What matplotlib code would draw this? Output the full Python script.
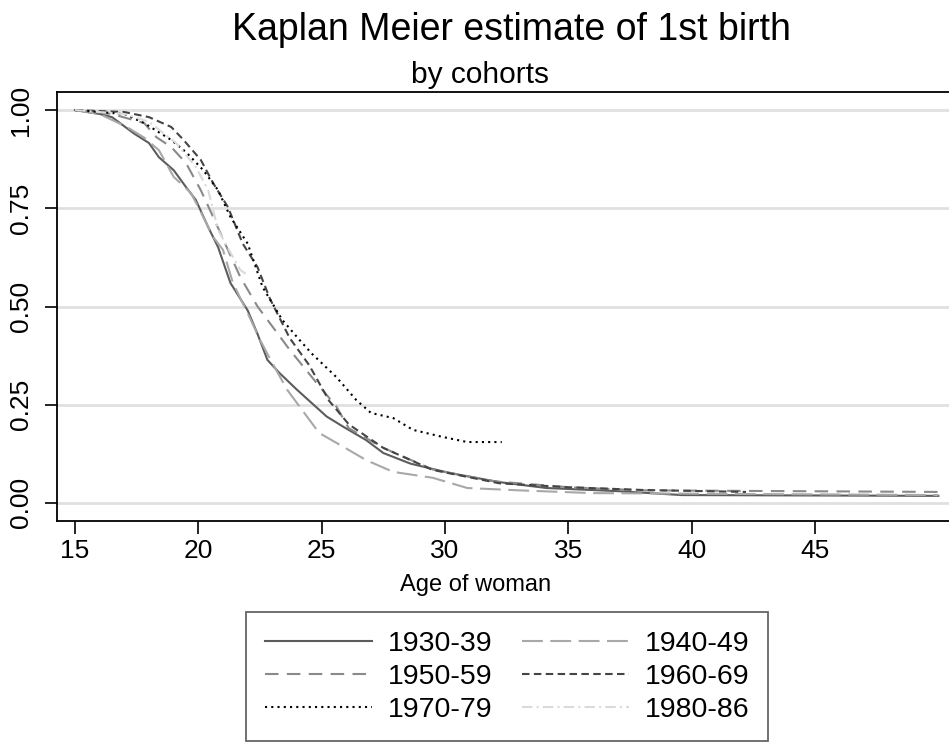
import matplotlib
matplotlib.use("Agg")
import matplotlib.pyplot as plt

plt.rcParams['font.family'] = ['Liberation Sans', 'DejaVu Sans']

# Kaplan-Meier survivor estimates
cohorts = ['1930-39', '1940-49', '1950-59', '1960-69', '1970-79', '1980-86']

age_1930 = [15, 16, 16.5, 17.4, 18.0, 18.4, 19.0, 19.5, 19.9, 20.4, 20.8, 21.3, 22.0, 22.4, 22.8,
            23.3, 24.0, 24.6, 25.2, 25.9, 26.8, 27.5, 28.6, 30.2, 32.2, 34.1, 37.0, 39.6, 50]
surv_1930 = [1.0, 0.99, 0.982, 0.94, 0.916, 0.88, 0.847, 0.804, 0.771, 0.702, 0.651, 0.56, 0.49, 0.43, 0.364,
             0.33, 0.288, 0.254, 0.22, 0.193, 0.16, 0.127, 0.10, 0.076, 0.053, 0.038, 0.03, 0.02, 0.018]

age_1940 = [15, 16, 17.1, 17.8, 18.4, 19.0, 19.7, 20.2, 20.6, 21.0, 21.4, 22.0, 22.5, 23.0, 23.6,
            24.2, 24.9, 25.9, 26.8, 27.9, 29.5, 30.9, 33, 36, 50]
surv_1940 = [1.0, 0.99, 0.957, 0.93, 0.898, 0.83, 0.789, 0.728, 0.677, 0.644, 0.56, 0.483, 0.415, 0.356, 0.288,
             0.237, 0.178, 0.142, 0.109, 0.079, 0.064, 0.038, 0.032, 0.025, 0.02]

age_1950 = [15, 16.5, 17.8, 18.3, 18.9, 19.5, 20.1, 20.6, 21.2, 21.7, 22.4, 23.7, 24.8, 25.6, 26.1,
            27.5, 29.5, 32, 35, 38, 50]
surv_1950 = [1.0, 0.99, 0.967, 0.931, 0.906, 0.865, 0.796, 0.728, 0.644, 0.575, 0.50, 0.39, 0.305, 0.245, 0.19,
             0.14, 0.085, 0.055, 0.04, 0.032, 0.028]

age_1960 = [15, 17, 18.0, 18.9, 19.4, 20.1, 20.6, 21.2, 21.8, 22.4, 22.9, 23.7, 24.5, 25.3, 26.1,
            27.5, 29.5, 32.2, 35, 38, 42.2]
surv_1960 = [1.0, 0.995, 0.982, 0.957, 0.924, 0.873, 0.814, 0.753, 0.66, 0.60, 0.52, 0.42, 0.35, 0.26, 0.20,
             0.14, 0.084, 0.05, 0.04, 0.033, 0.028]

age_1970 = [15, 17, 17.8, 18.9, 19.5, 20.2, 20.8, 21.3, 22.0, 22.6, 23.4, 24.1, 24.6, 25.6, 26.4,
            27.0, 27.9, 28.7, 29.9, 30.9, 32.3]
surv_1970 = [1.0, 0.99, 0.967, 0.924, 0.893, 0.847, 0.796, 0.728, 0.66, 0.55, 0.466, 0.415, 0.38, 0.32, 0.262,
             0.229, 0.216, 0.186, 0.168, 0.155, 0.155]

age_1980 = [15, 17, 18, 19.1, 19.9, 20.4, 20.8, 21.4, 21.7, 22.0]
surv_1980 = [1.0, 0.99, 0.97, 0.916, 0.855, 0.796, 0.695, 0.626, 0.593, 0.58]

ages = [age_1930, age_1940, age_1950, age_1960, age_1970, age_1980]
survs = [surv_1930, surv_1940, surv_1950, surv_1960, surv_1970, surv_1980]

colors = ['#5c5c5c', '#a8a8a8', '#8a8a8a', '#454545', '#000000', '#dadada']
styles = ['-', (0, (10, 3.6)), (0, (6.5, 4)), (0, (3.6, 2.1)), (0, (1, 2.0)), (0, (5, 2, 1, 2))]

x_ticks = [15, 20, 25, 30, 35, 40, 45]
y_ticks = [0.0, 0.25, 0.5, 0.75, 1.0]
y_ticklabels = ['0.00', '0.25', '0.50', '0.75', '1.00']

fig = plt.figure(figsize=(9.49, 7.42), dpi=100)
ax = fig.add_axes([57 / 949, 1 - 521 / 742, 1 - 57 / 949, (521 - 92) / 742])

lines = []
for a, s, c, ls, lab in zip(ages, survs, colors, styles, cohorts):
    ln, = ax.plot(a, s, color=c, linestyle=ls, linewidth=1.5, label=lab)
    lines.append(ln)

ax.set_xlim(14.27, 50.43)
ax.set_ylim(-0.046, 1.046)
ax.set_xticks(x_ticks)
ax.set_yticks(y_ticks)
ax.set_yticklabels(y_ticklabels, rotation=90, va='center')
ax.tick_params(axis='both', length=9, width=1.2, labelsize=19, pad=4)
ax.tick_params(axis='y', pad=8)
ax.yaxis.grid(True, color='#e0e0e0', linewidth=2)
ax.set_axisbelow(True)
ax.spines['right'].set_visible(False)
for sp in ['left', 'bottom', 'top']:
    ax.spines[sp].set_linewidth(1.3)
ax.set_xlabel('Age of woman', fontsize=17)
ax.xaxis.set_label_coords((476 - 57) / 892, (521 - 585) / 429)
ax.xaxis.label.set_va('center')

# title and subtitle
fig.text(511 / 949, 1 - 30 / 742, 'Kaplan Meier estimate of 1st birth', fontsize=27, ha='center', va='center')
fig.text(480 / 949, 1 - 75 / 742, 'by cohorts', fontsize=21.5, ha='center', va='center')

# legend filled row by row, like the reference
order = [0, 2, 4, 1, 3, 5]
leg = fig.legend([lines[i] for i in order], [cohorts[i] for i in order],
                 loc='upper center', bbox_to_anchor=(507 / 949, 1 - 612 / 742), ncol=2,
                 fontsize=20.5, frameon=True, fancybox=False, handlelength=3.75,
                 handletextpad=0.55, columnspacing=1.05, borderpad=0.65, labelspacing=0.25,
                 borderaxespad=0)
leg.get_frame().set_edgecolor('#404040')
leg.get_frame().set_linewidth(1.3)

fig.savefig('out.png', dpi=100)
